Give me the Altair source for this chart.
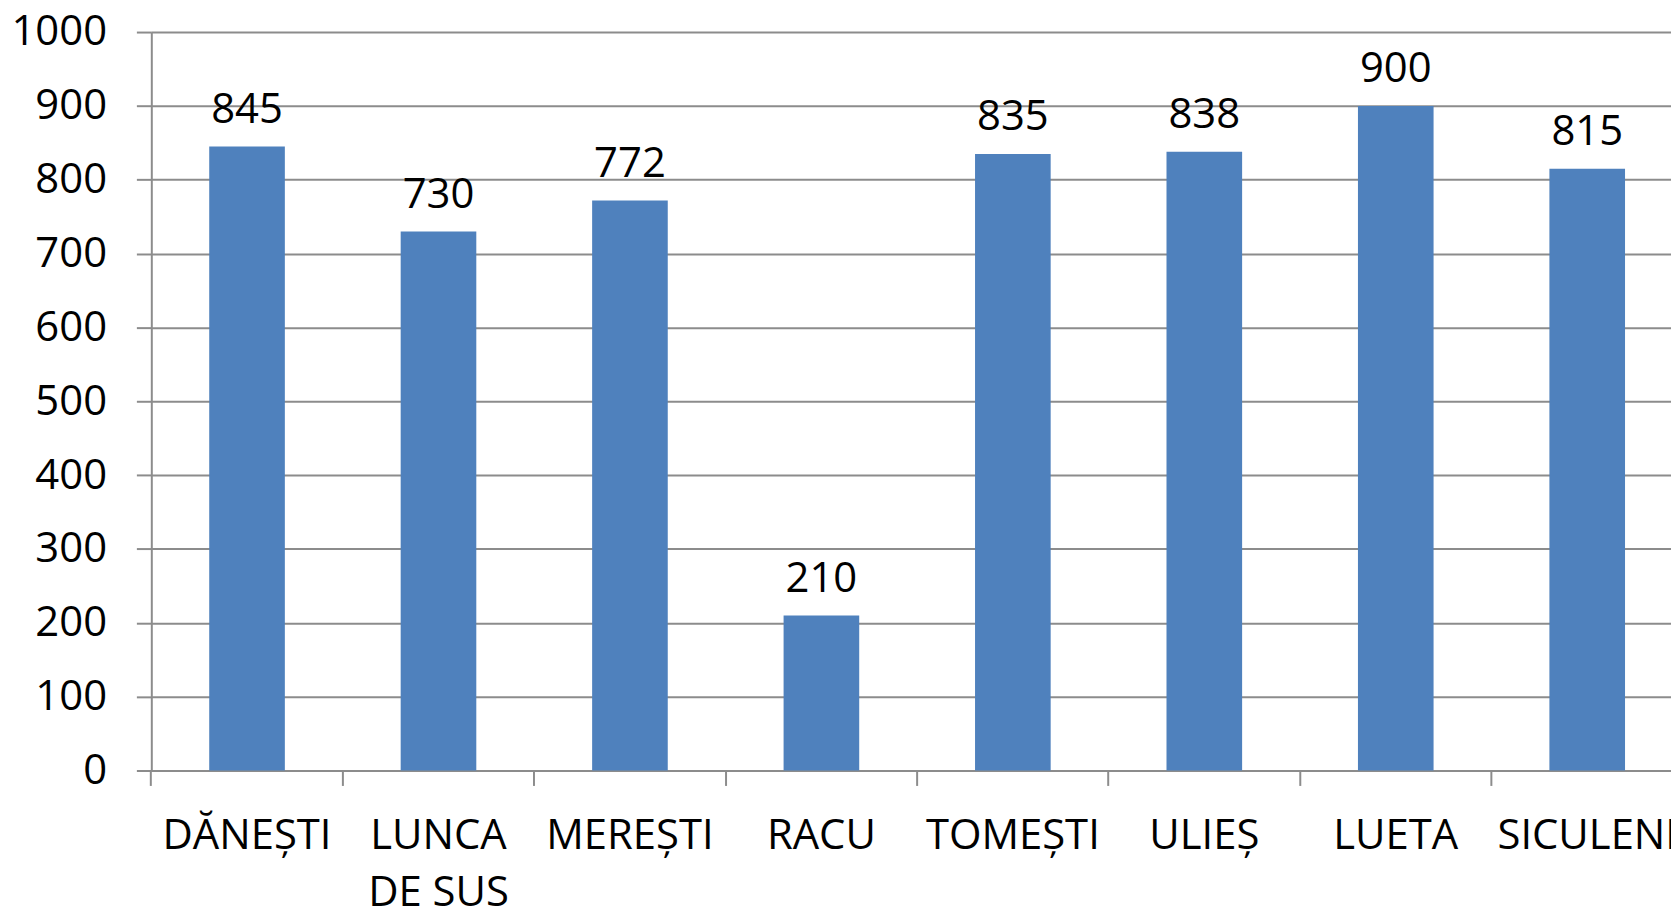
import altair as alt
import pandas as pd

categories = ["DĂNEȘTI", "LUNCA DE SUS", "MEREȘTI", "RACU", "TOMEȘTI", "ULIEȘ", "LUETA", "SICULENI"]
values = [845, 730, 772, 210, 835, 838, 900, 815]

df = pd.DataFrame({"cat": categories, "val": values})

FONT = "Open Sans"
GRID = "#8c8c8c"

x = alt.X(
    "cat:N",
    sort=categories,
    scale=alt.Scale(paddingInner=0.605, paddingOuter=0.3025, range=[0, 1539]),
    axis=alt.Axis(
        title=None,
        labelAngle=0,
        labelFont=FONT,
        labelFontSize=42,
        labelColor="#000000",
        labelPadding=30,
        labelLineHeight=58,
        labelLimit=0,
        labelOverlap=False,
        labelExpr="datum.label == 'LUNCA DE SUS' ? ['LUNCA', 'DE SUS'] : datum.label",
        tickSize=15,
        tickColor=GRID,
        tickWidth=2,
        bandPosition=-0.766,
        domainColor=GRID,
        domainWidth=2,
        grid=False,
    ),
)

y = alt.Y(
    "val:Q",
    scale=alt.Scale(domain=[0, 1000]),
    axis=alt.Axis(
        title=None,
        values=list(range(0, 1001, 100)),
        format="d",
        labelFont=FONT,
        labelFontSize=42,
        labelColor="#000000",
        labelPadding=30,
        tickSize=15,
        tickColor=GRID,
        tickWidth=2,
        domainColor=GRID,
        domainWidth=2,
        grid=True,
        gridColor=GRID,
        gridWidth=2,
    ),
)

bars = alt.Chart(df).mark_bar(color="#4F81BD").encode(x=x, y=y)
labels = alt.Chart(df).mark_text(
    font=FONT, fontSize=42, color="#000000", baseline="alphabetic", dy=-24
).encode(x=alt.X("cat:N", sort=categories), y="val:Q", text="val:Q")

chart = (
    alt.layer(bars, labels)
    .properties(
        width=1527,
        height=742,
        autosize=alt.AutoSizeParams(type="none"),
        padding={"top": 22, "left": 144, "right": 0, "bottom": 139},
    )
    .configure_view(stroke=None)
)

chart.save("out.html", embed_options={"renderer": "svg", "actions": False})
